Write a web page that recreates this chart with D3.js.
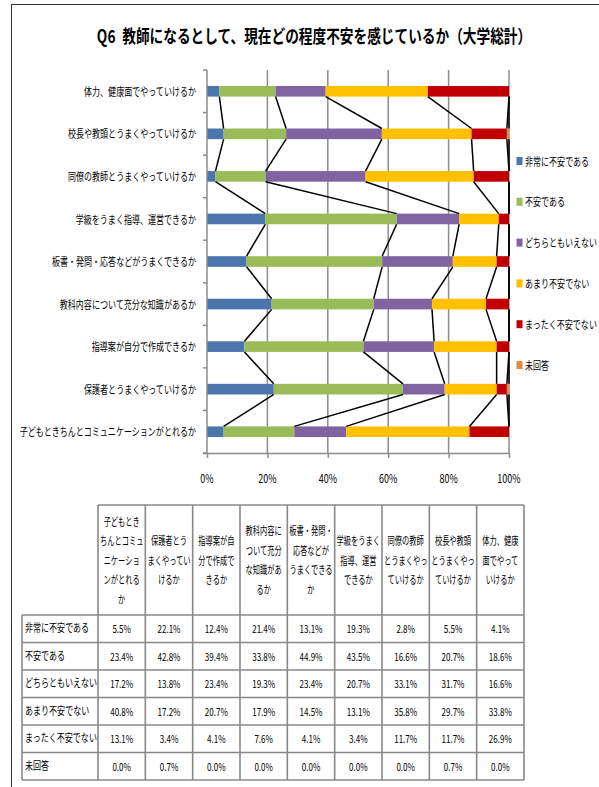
<!DOCTYPE html>
<html>
<head>
<meta charset="utf-8">
<script src="https://cdn.jsdelivr.net/npm/d3@7"></script>
<style>
  body { margin: 0; background: #fff; }
  svg { display: block; }
  text { font-family: "Noto Sans CJK JP", "Noto Sans", sans-serif; fill: #000; }
</style>
</head>
<body>
<svg id="chart" width="599" height="787"></svg>
<script>
// ---- data (table order; the chart lists them bottom to top) ----
const categories = [
  "子どもときちんとコミュニケーションがとれるか",
  "保護者とうまくやっていけるか",
  "指導案が自分で作成できるか",
  "教科内容について充分な知識があるか",
  "板書・発問・応答などがうまくできるか",
  "学級をうまく指導、運営できるか",
  "同僚の教師とうまくやっていけるか",
  "校長や教頭とうまくやっていけるか",
  "体力、健康面でやっていけるか"
];
// wrapped header text of the data table, one entry per category
const tableHeaderLines = [
  ["子どもとき", "ちんとコミュ", "ニケーショ", "ンがとれる", "か"],
  ["保護者とう", "まくやってい", "けるか"],
  ["指導案が自", "分で作成で", "きるか"],
  ["教科内容に", "ついて充分", "な知識があ", "るか"],
  ["板書・発問・", "応答などが", "うまくできる", "か"],
  ["学級をうまく", "指導、運営", "できるか"],
  ["同僚の教師", "とうまくやっ", "ていけるか"],
  ["校長や教頭", "とうまくやっ", "ていけるか"],
  ["体力、健康", "面でやって", "いけるか"]
];
const seriesNames = ["非常に不安である", "不安である", "どちらともいえない", "あまり不安でない", "まったく不安でない", "未回答"];
const veryAnxious = [5.5, 22.1, 12.4, 21.4, 13.1, 19.3, 2.8, 5.5, 4.1];
const anxious     = [23.4, 42.8, 39.4, 33.8, 44.9, 43.5, 16.6, 20.7, 18.6];
const neutral     = [17.2, 13.8, 23.4, 19.3, 23.4, 20.7, 33.1, 31.7, 16.6];
const notVery     = [40.8, 17.2, 20.7, 17.9, 14.5, 13.1, 35.8, 29.7, 33.8];
const notAtAll    = [13.1, 3.4, 4.1, 7.6, 4.1, 3.4, 11.7, 11.7, 26.9];
const noAnswer    = [0.0, 0.7, 0.0, 0.0, 0.0, 0.0, 0.0, 0.7, 0.0];
const xTickValues = [0, 20, 40, 60, 80, 100];
const titleText = "Q6\u2002教師になるとして、現在どの程度不安を感じているか（大学総計）";

// ---- styling ----
const seriesValues = [veryAnxious, anxious, neutral, notVery, notAtAll, noAnswer];
const colors = ["#4a76ad", "#9bbb59", "#8064a2", "#ffc000", "#c00000", "#e08b45"];
const SX = 0.73;          // horizontal squeeze used for the narrow label face
const FS = 11;

const svg = d3.select("#chart");

function label(g, x, y, str, anchor, size, weight, sx) {
  return g.append("text")
    .attr("transform", `translate(${x},${y}) scale(${sx || SX},1)`)
    .attr("text-anchor", anchor || "start")
    .attr("dominant-baseline", "central")
    .style("font-size", (size || FS) + "px")
    .style("font-weight", weight || 400)
    .text(str);
}

// outer frame
svg.append("line").attr("x1", 11.5).attr("x2", 11.5).attr("y1", 4).attr("y2", 787)
  .attr("stroke", "#333").attr("stroke-width", 1);
svg.append("line").attr("x1", 11).attr("x2", 599).attr("y1", 4.5).attr("y2", 4.5)
  .attr("stroke", "#333").attr("stroke-width", 1);

// title
label(svg, 314, 35, titleText, "middle", 18, 700, 0.76);

// ---- stacked 100% bars ----
const rows = categories.map((c, i) => {
  const r = { category: c };
  seriesNames.forEach((s, k) => { r[s] = seriesValues[k][i]; });
  return r;
});
const stacked = d3.stack().keys(seriesNames).offset(d3.stackOffsetExpand)(rows);

const plot = { left: 207, right: 509, top: 70, bottom: 453 };
const x = d3.scaleLinear().domain([0, 1]).range([plot.left, plot.right]);
const y = d3.scaleBand()
  .domain(categories.slice().reverse())
  .range([plot.top, plot.bottom])
  .paddingInner(0.75).paddingOuter(0.375);
const bw = y.bandwidth();
const gap = (y.step() - bw) / 2;

// gridlines
svg.append("g").selectAll("line").data(xTickValues.filter(d => d > 0)).join("line")
  .attr("x1", d => x(d / 100)).attr("x2", d => x(d / 100))
  .attr("y1", plot.top).attr("y2", plot.bottom)
  .attr("stroke", "#8c8c8c").attr("stroke-width", 1.5);

// bars
svg.append("g").selectAll("g").data(stacked).join("g")
  .attr("fill", (d, k) => colors[k])
  .selectAll("rect").data(d => d).join("rect")
  .attr("x", d => x(d[0]))
  .attr("width", d => Math.max(0, x(d[1]) - x(d[0])))
  .attr("y", d => y(d.data.category))
  .attr("height", bw);

// series lines joining each segment end between neighbouring bars
const order = y.domain();
const idx = c => categories.indexOf(c);
const seriesLines = [];
stacked.forEach(layer => {
  for (let i = 0; i < order.length - 1; i++) {
    const a = layer[idx(order[i])], b = layer[idx(order[i + 1])];
    seriesLines.push({ x1: x(a[1]), y1: y(order[i]) + bw, x2: x(b[1]), y2: y(order[i + 1]) });
  }
});
svg.append("g").selectAll("line").data(seriesLines).join("line")
  .attr("x1", d => d.x1).attr("y1", d => d.y1).attr("x2", d => d.x2).attr("y2", d => d.y2)
  .attr("stroke", "#000").attr("stroke-width", 1.5);

// vertical (category) axis
const yAxis = svg.append("g");
yAxis.append("line").attr("x1", plot.left).attr("x2", plot.left)
  .attr("y1", plot.top).attr("y2", plot.bottom).attr("stroke", "#8c8c8c").attr("stroke-width", 1.5);
const boundaries = order.map(c => y(c) - gap).concat([plot.bottom]);
yAxis.selectAll("line.tick").data(boundaries).join("line").attr("class", "tick")
  .attr("x1", plot.left - 4).attr("x2", plot.left).attr("y1", d => d).attr("y2", d => d)
  .attr("stroke", "#8c8c8c").attr("stroke-width", 1.5);
order.forEach(c => label(yAxis, 196, y(c) + bw / 2, c, "end"));

// horizontal (value) axis
const xAxisG = svg.append("g").attr("transform", `translate(0,${plot.bottom})`)
  .call(d3.axisBottom(x).tickValues(xTickValues.map(d => d / 100)).tickSize(5).tickSizeOuter(0).tickFormat(""));
xAxisG.select(".domain").attr("stroke", "#8c8c8c").attr("stroke-width", 1.5)
  .attr("d", `M${plot.left - 4},0.5H${plot.right}`);
xAxisG.selectAll(".tick line").attr("stroke", "#8c8c8c").attr("stroke-width", 1.5);
xTickValues.forEach(v => label(svg, x(v / 100), 478, v + "%", "middle", 12, 400, 0.75));

// legend
const legend = svg.append("g");
seriesNames.forEach((s, k) => {
  const ly = 161 + k * 40.8;
  legend.append("rect").attr("x", 516.5).attr("y", ly - 4).attr("width", 6).attr("height", 8).attr("fill", colors[k]);
  label(legend, 525, ly, s, "start");
});

// ---- data table ----
const tbl = { left: 22, colLeft: 98, right: 524, headTop: 505, headBottom: 615, rowH: 27.5 };
const colW = (tbl.right - tbl.colLeft) / categories.length;
const tableBottom = tbl.headBottom + tbl.rowH * seriesNames.length;
const table = svg.append("g");
function tline(x1, y1, x2, y2) {
  table.append("line").attr("x1", x1).attr("y1", y1).attr("x2", x2).attr("y2", y2)
    .attr("stroke", "#888").attr("stroke-width", 1.6);
}
// grid
tline(tbl.colLeft, tbl.headTop, tbl.right, tbl.headTop);
for (let c = 0; c <= categories.length; c++) {
  tline(tbl.colLeft + c * colW, tbl.headTop, tbl.colLeft + c * colW, tableBottom);
}
tline(tbl.left, tbl.headBottom, tbl.right, tbl.headBottom);
tline(tbl.left, tbl.headBottom, tbl.left, tableBottom);
for (let r = 1; r <= seriesNames.length; r++) {
  tline(tbl.left, tbl.headBottom + r * tbl.rowH, tbl.right, tbl.headBottom + r * tbl.rowH);
}
// header text
const lineH = 19.5;
const headMid = (tbl.headTop + tbl.headBottom) / 2;
tableHeaderLines.forEach((lines, c) => {
  const cx = tbl.colLeft + (c + 0.5) * colW;
  lines.forEach((ln, j) => {
    label(table, cx, headMid + (j - (lines.length - 1) / 2) * lineH, ln, "middle", 11, 400, 0.66);
  });
});
// rows
seriesNames.forEach((s, r) => {
  const cy = tbl.headBottom + (r + 0.5) * tbl.rowH;
  label(table, tbl.left + 3, cy - 1, s, "start");
  seriesValues[r].forEach((v, c) => {
    label(table, tbl.colLeft + (c + 0.5) * colW, cy, v.toFixed(1) + "%", "middle");
  });
});
</script>
</body>
</html>
